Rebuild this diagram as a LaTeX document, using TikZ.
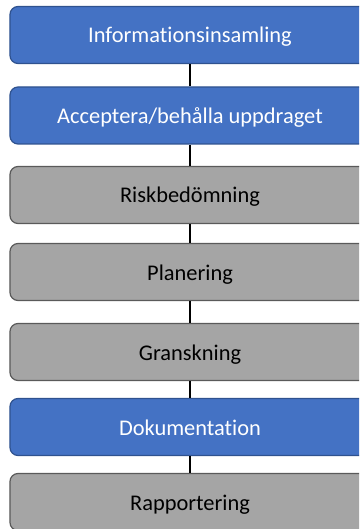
\documentclass[tikz,border=0pt]{standalone}
\usepackage{fontspec}
\setmainfont{Carlito}[Ligatures=NoCommon]
\definecolor{bluefill}{HTML}{4472C4}
\definecolor{blueline}{HTML}{2F528F}
\definecolor{grayfill}{HTML}{A5A5A5}
\definecolor{grayline}{HTML}{5A5A5A}
\begin{document}
\begin{tikzpicture}[x=1bp,y=-1bp,
  base/.style={rectangle,rounded corners=8bp,minimum width=360bp,minimum height=57bp,line width=1.2bp,font=\fontsize{22.5}{26}\selectfont,inner sep=0pt,text height=16bp,text depth=0pt},
  bluebox/.style={base,fill=bluefill,draw=blueline,text=white},
  graybox/.style={base,fill=grayfill,draw=grayline,text=black},
  conn/.style={line width=2bp,black}]
\useasboundingbox (0,0) rectangle (359,529);
\clip (0,0) rectangle (359,529);
\node[bluebox] (n1) at (190,35) {Informationsinsamling};
\node[bluebox] (n2) at (190,115.5) {Acceptera/behålla uppdraget};
\node[graybox] (n3) at (190,195) {Riskbedömning};
\node[graybox] (n4) at (190,272) {Planering};
\node[graybox] (n5) at (190,352) {Granskning};
\node[bluebox] (n6) at (190,427) {Dokumentation};
\node[graybox] (n7) at (190,502) {Rapportering};
\draw[conn] (n1.south) -- (n2.north);
\draw[conn] (n2.south) -- (n3.north);
\draw[conn] (n3.south) -- (n4.north);
\draw[conn] (n4.south) -- (n5.north);
\draw[conn] (n5.south) -- (n6.north);
\draw[conn] (n6.south) -- (n7.north);
\end{tikzpicture}
\end{document}
